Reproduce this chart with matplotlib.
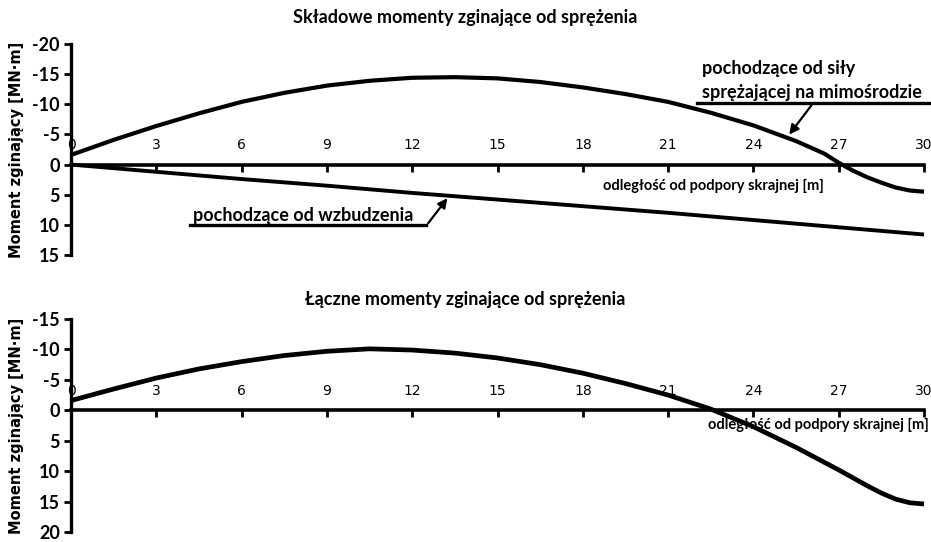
import numpy as np
import matplotlib
matplotlib.use('Agg')
import matplotlib.pyplot as plt

## values (y axis points down: negative moments on top)

x_ticks = [0, 3, 6, 9, 12, 15, 18, 21, 24, 27, 30]

# top panel - eccentric prestress force
x_ecc = [0, 1.5, 3, 4.5, 6, 7.5, 9, 10.5, 12, 13.5, 15, 16.5, 18, 19.5, 21, 22.5, 24, 25.5, 26.5, 27, 27.5, 28, 28.5, 29, 29.5, 30]
m_ecc = [-1.6, -4.1, -6.4, -8.5, -10.4, -11.9, -13.1, -13.9, -14.4, -14.5, -14.3, -13.7, -12.8, -11.7, -10.4, -8.6, -6.5, -3.9, -1.8, -0.3, 1.0, 2.1, 3.0, 3.8, 4.3, 4.5]

# top panel - secondary (induced) moments
x_ind = [0, 3, 6, 9, 12, 15, 18, 21, 24, 27, 30]
m_ind = [0.0, 1.2, 2.4, 3.5, 4.7, 5.8, 6.9, 8.0, 9.2, 10.4, 11.6]

# bottom panel - total moments
x_tot = [0, 1.5, 3, 4.5, 6, 7.5, 9, 10.5, 12, 13.5, 15, 16.5, 18, 19.5, 21, 22.5, 24, 25.5, 27, 28, 28.5, 29, 29.5, 30]
m_tot = [-1.6, -3.5, -5.3, -6.8, -8.0, -9.0, -9.7, -10.1, -9.9, -9.4, -8.6, -7.5, -6.1, -4.4, -2.5, -0.2, 2.7, 6.1, 9.8, 12.4, 13.6, 14.6, 15.2, 15.4]

top_yticks = [-20, -15, -10, -5, 0, 5, 10, 15]
bot_yticks = [-15, -10, -5, 0, 5, 10, 15, 20]

narrow = ['Lato', 'DejaVu Sans']
ylabel = 'Moment zginający [MN·m]'
xlabel = 'odległość od podpory skrajnej [m]'


def style_axes(ax, yticks):
    ax.set_xlim(0, 30)
    ax.set_ylim(yticks[-1], yticks[0])  # inverted
    ax.set_yticks(yticks)
    ax.set_xticks(x_ticks)
    ax.set_xticklabels([str(t) for t in x_ticks], family=narrow, fontsize=13, fontweight='bold')
    ax.set_yticklabels([str(t) for t in yticks], family=narrow, fontsize=13, fontweight='bold')
    # x axis drawn on the zero line, labels above it
    ax.spines['top'].set_position(('data', 0))
    ax.spines['top'].set_linewidth(2.6)
    ax.spines['bottom'].set_visible(False)
    ax.spines['right'].set_visible(False)
    ax.spines['left'].set_linewidth(2.4)
    ax.xaxis.set_ticks_position('top')
    ax.tick_params(axis='x', direction='in', length=5, width=2, pad=9)
    ax.tick_params(axis='y', direction='out', length=5, width=2, pad=3)
    ax.set_ylabel(ylabel, fontsize=10.5, fontweight='bold', labelpad=6)
    ax.patch.set_alpha(0)


fig = plt.figure(figsize=(9.31, 5.42), dpi=100)
ax1 = fig.add_axes([0.0763, 0.5295, 0.9162, 0.3893])
ax2 = fig.add_axes([0.0763, 0.0185, 0.9162, 0.3929])

# top panel
ax1.plot(x_ecc, m_ecc, color='black', lw=3.0, solid_capstyle='butt', clip_on=False)
ax1.plot(x_ind, m_ind, color='black', lw=2.8, solid_capstyle='butt', clip_on=False)
style_axes(ax1, top_yticks)
fig.text(0.5, 0.968, 'Składowe momenty zginające od sprężenia', ha='center', va='center',
         family=narrow, fontsize=13, fontweight='bold')
ax1.text(18.7, 3.5, xlabel, ha='left', va='center', family=narrow, fontsize=10.5, fontweight='bold')

ax1.text(22.2, -16.0, 'pochodzące od siły', ha='left', va='center', family=narrow, fontsize=13, fontweight='bold')
ax1.text(22.2, -12.0, 'sprężającej na mimośrodzie', ha='left', va='center', family=narrow, fontsize=13, fontweight='bold')
ax1.plot([22.0, 30.4], [-10.2, -10.2], color='black', lw=2.4, clip_on=False)
ax1.annotate('', xy=(25.2, -4.6), xytext=(26.1, -10.2),
             arrowprops=dict(arrowstyle='-|>', color='black', lw=1.6, mutation_scale=14))

ax1.text(4.3, 8.4, 'pochodzące od wzbudzenia', ha='left', va='center', family=narrow, fontsize=13, fontweight='bold')
ax1.plot([4.2, 12.5], [10.1, 10.1], color='black', lw=2.4)
ax1.annotate('', xy=(13.3, 5.2), xytext=(12.5, 10.1),
             arrowprops=dict(arrowstyle='-|>', color='black', lw=1.6, mutation_scale=14))

# bottom panel
ax2.plot(x_tot, m_tot, color='black', lw=3.4, solid_capstyle='butt', clip_on=False)
style_axes(ax2, bot_yticks)
fig.text(0.5, 0.447, 'Łączne momenty zginające od sprężenia', ha='center', va='center',
         family=narrow, fontsize=13, fontweight='bold')
ax2.text(22.4, 2.4, xlabel, ha='left', va='center', family=narrow, fontsize=10.5, fontweight='bold', clip_on=False)

fig.savefig('out.png', dpi=100)
